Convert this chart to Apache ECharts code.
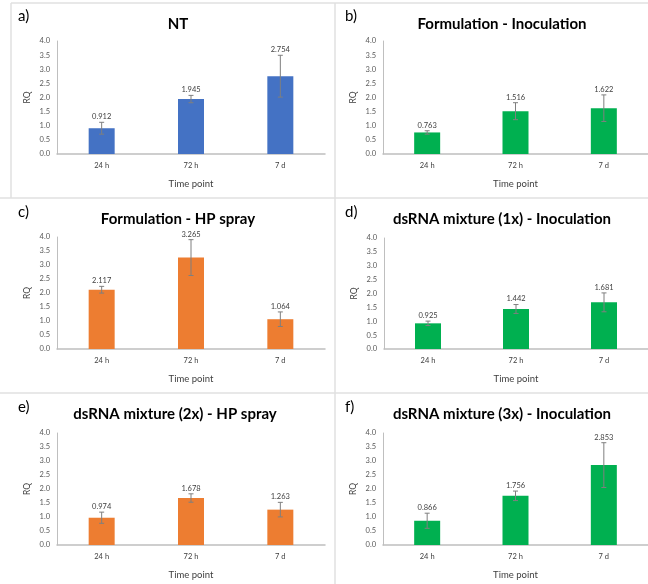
<!DOCTYPE html>
<html>
<head>
<meta charset="utf-8">
<script src="https://cdn.jsdelivr.net/npm/echarts@6/dist/echarts.min.js"></script>
<style>html,body{margin:0;padding:0;background:#fff}#c{width:648px;height:584px}</style>
</head>
<body>
<div id="c"></div>
<script>
const categories = ['24 h', '72 h', '7 d'];
const panelTitles = ['NT', 'Formulation - Inoculation', 'Formulation - HP spray', 'dsRNA mixture (1x) - Inoculation', 'dsRNA mixture (2x) - HP spray', 'dsRNA mixture (3x) - Inoculation'];
const panelLetters = ['a)', 'b)', 'c)', 'd)', 'e)', 'f)'];
const yTicks = ['0.0', '0.5', '1.0', '1.5', '2.0', '2.5', '3.0', '3.5', '4.0'];
const xAxisName = 'Time point';
const yAxisName = 'RQ';

const ntValues = [0.912, 1.945, 2.754];
const ntErrors = [0.21, 0.13, 0.74];
const formInocValues = [0.763, 1.516, 1.622];
const formInocErrors = [0.06, 0.30, 0.47];
const formHpValues = [2.117, 3.265, 1.064];
const formHpErrors = [0.12, 0.64, 0.26];
const mix1InocValues = [0.925, 1.442, 1.681];
const mix1InocErrors = [0.08, 0.16, 0.34];
const mix2HpValues = [0.974, 1.678, 1.263];
const mix2HpErrors = [0.20, 0.15, 0.26];
const mix3InocValues = [0.866, 1.756, 2.853];
const mix3InocErrors = [0.27, 0.17, 0.80];

const panelValues = [ntValues, formInocValues, formHpValues, mix1InocValues, mix2HpValues, mix3InocValues];
const panelErrors = [ntErrors, formInocErrors, formHpErrors, mix1InocErrors, mix2HpErrors, mix3InocErrors];
const panelColors = ['#4472C4', '#00B050', '#ED7D31', '#00B050', '#ED7D31', '#00B050'];

const FONT = 'Lato, "Open Sans", sans-serif';
const grids = [
  {left: 57, top: 41, width: 268, height: 113},
  {left: 383, top: 41, width: 268, height: 113},
  {left: 57, top: 237, width: 268, height: 112},
  {left: 384, top: 238, width: 268, height: 111},
  {left: 57, top: 433, width: 268, height: 112},
  {left: 383, top: 433, width: 268, height: 112}
];
const titlePos = [[173, 12], [497, 12], [173, 207], [497, 207], [170, 402], [497, 402]];
const letterPos = [[18, 9], [345, 9], [18, 205], [345, 205], [18, 400], [345, 400]];

const option = {
  animation: false,
  backgroundColor: '#fff',
  title: panelTitles.map((t, i) => ({
    text: t, left: titlePos[i][0], top: titlePos[i][1], textAlign: 'center',
    textStyle: {fontFamily: FONT, fontWeight: 'bold', fontSize: 15, color: '#000'}
  })),
  grid: grids,
  xAxis: grids.map((g, i) => ({
    type: 'category', gridIndex: i, data: categories,
    name: xAxisName, nameLocation: 'middle', nameGap: 25,
    nameTextStyle: {fontFamily: FONT, fontSize: 9.5, color: '#404040'},
    axisLine: {lineStyle: {color: '#BFBFBF', width: 1.5}},
    axisTick: {show: false},
    axisLabel: {fontFamily: FONT, fontSize: 7.5, color: '#404040', margin: 8}
  })),
  yAxis: grids.map((g, i) => ({
    type: 'value', gridIndex: i, min: 0, max: 4, interval: 0.5,
    name: yAxisName, nameLocation: 'middle', nameGap: 25,
    nameTextStyle: {fontFamily: FONT, fontSize: 8.5, color: '#404040'},
    axisLine: {show: true, lineStyle: {color: '#BFBFBF', width: 1}},
    axisTick: {show: false},
    splitLine: {show: false},
    axisLabel: {fontFamily: FONT, fontSize: 7.5, color: '#595959', margin: 7,
      formatter: (v) => yTicks[Math.round(v / 0.5)]}
  })),
  series: [],
  graphic: []
};

panelValues.forEach((vals, i) => {
  option.series.push({
    type: 'bar', xAxisIndex: i, yAxisIndex: i, data: vals, barWidth: 26,
    itemStyle: {color: panelColors[i]}
  });
  option.series.push({
    type: 'custom', xAxisIndex: i, yAxisIndex: i,
    data: vals.map((v, k) => [k, v, panelErrors[i][k]]),
    encode: {x: 0, y: 1},
    z: 10,
    renderItem: function (params, api) {
      const x = api.value(0), v = api.value(1), e = api.value(2);
      const top = api.coord([x, v + e]);
      const bot = api.coord([x, v - e]);
      const c = '#7F7F7F';
      return {
        type: 'group',
        children: [
          {type: 'line', shape: {x1: top[0], y1: top[1], x2: bot[0], y2: bot[1]}, style: {stroke: c, lineWidth: 1}},
          {type: 'line', shape: {x1: top[0] - 2.5, y1: top[1], x2: top[0] + 2.5, y2: top[1]}, style: {stroke: c, lineWidth: 1}},
          {type: 'line', shape: {x1: bot[0] - 2.5, y1: bot[1], x2: bot[0] + 2.5, y2: bot[1]}, style: {stroke: c, lineWidth: 1}},
          {type: 'text', x: top[0], y: top[1] - 1.5,
            style: {text: v.toFixed(3), textAlign: 'center', textVerticalAlign: 'bottom',
              font: '7.5px ' + FONT, fill: '#404040'}}
        ]
      };
    }
  });
  option.graphic.push({
    type: 'text', left: letterPos[i][0], top: letterPos[i][1],
    style: {text: panelLetters[i], font: '15px ' + FONT, fill: '#000'}
  });
});

// panel frame lines
const frameColor = '#E0E0E0';
[
  [11, 3, 648, 3], [11, 3, 11, 198], [0, 198, 648, 198], [0, 393, 648, 393], [335, 3, 335, 584]
].forEach(l => {
  option.graphic.push({type: 'line', shape: {x1: l[0], y1: l[1], x2: l[2], y2: l[3]},
    style: {stroke: frameColor, lineWidth: 1.5}, silent: true});
});

const chart = echarts.init(document.getElementById('c'), null, {renderer: 'canvas'});
chart.setOption(option);
</script>
</body>
</html>
